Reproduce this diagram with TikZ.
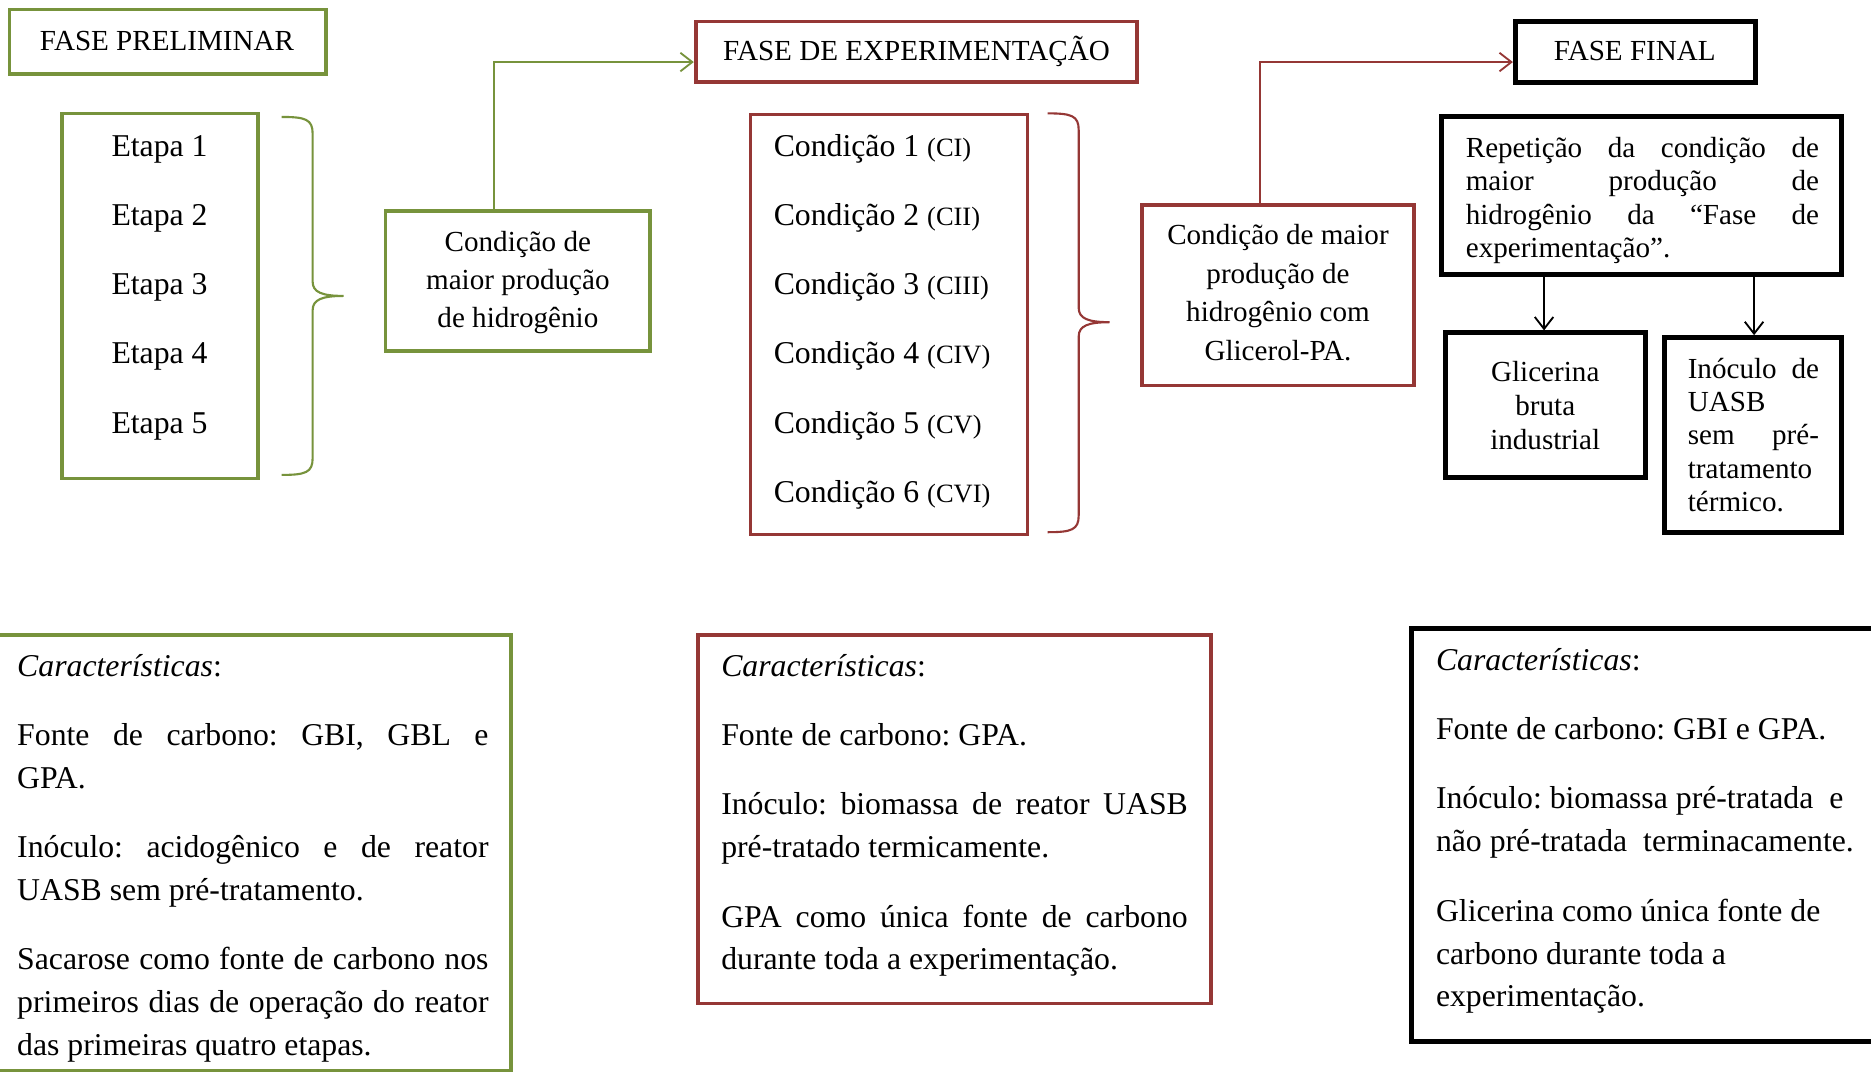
\documentclass[tikz,border=0pt]{standalone}
\usepackage{fontspec}
\setmainfont{Liberation Serif}
\usetikzlibrary{arrows.meta,fit}
\frenchspacing
\newlength\pxu
\setlength\pxu{0.451pt}
\definecolor{ogreen}{HTML}{77933C}
\definecolor{dred}{HTML}{953735}
\newcommand\setbs[2]{\fontsize{#1}{#2}\selectfont}
\newcommand\jline[1]{\makebox[\linewidth][s]{#1}}
\tikzset{
  gbox/.style={draw=ogreen, line width=1.4pt, inner sep=0pt},
  rbox/.style={draw=dred, line width=1.4pt, inner sep=0pt},
  kbox/.style={draw=black, line width=1.9pt, inner sep=0pt},
  ttl/.style={anchor=base, inner sep=0pt, font=\setbs{11}{13}},
  lft/.style={anchor=base west, inner sep=0pt},
  ctr/.style={anchor=base, inner sep=0pt},
  garrow/.style={draw=ogreen, line width=0.7pt, -{Straight Barb[length=4.5pt,width=7pt]}},
  rarrow/.style={draw=dred, line width=0.7pt, -{Straight Barb[length=4.5pt,width=7pt]}},
  karrow/.style={draw=black, line width=0.7pt, -{Straight Barb[length=4.5pt,width=7pt]}},
  gbrace/.style={draw=ogreen, line width=0.8pt},
  rbrace/.style={draw=dred, line width=0.8pt}
}
\begin{document}
\frenchspacing
\begin{tikzpicture}[x=0.451pt,y=-0.451pt]
\useasboundingbox (0,0) rectangle (1568,899);
\clip (0,0) rectangle (1568,899);
\fill[white] (0,0) rectangle (1568,899);

% ---------- FASE PRELIMINAR ----------
\node[gbox, fit={(8,8) (273,62)}] (fprel) {};
\node[ttl] (tfprel) at (140,42) {FASE PRELIMINAR};

\node[gbox, fit={(52,95) (216,401)}] (etapas) {};
\node[lft] (tetapas) at (93,131) {\parbox[t]{110\pxu}{\setbs{12}{26.16}Etapa 1\\Etapa 2\\Etapa 3\\Etapa 4\\Etapa 5}};

\path[gbrace] (236,98) .. controls (256,98) and (262,100) .. (262,112) -- (262,236)
  .. controls (262,245) and (270,248) .. (288,248)
  .. controls (270,248) and (262,251) .. (262,260) -- (262,384)
  .. controls (262,396) and (256,398) .. (236,398);

\node[gbox, fit={(323,177) (545,294)}] (gcond) {};
\node[ctr] (tgcond) at (434,211) {\parbox[t]{210\pxu}{\centering\setbs{11}{14.4}Condição de\\maior produção\\de hidrogênio}};

% ---------- FASE DE EXPERIMENTACAO ----------
\node[rbox, fit={(583,18) (953,69)}] (fexp) {};
\node[ttl] (tfexp) at (768,51) {FASE DE EXPERIMENTAÇÃO};

\coordinate (gbend) at (414,52);
\draw[garrow] (gbend |- gcond.north) -- (gbend) -- (gbend -| fexp.west);

\node[rbox, fit={(629,96) (861,448)}] (conds) {};
\node[lft] (tconds) at (648,131) {\parbox[t]{215\pxu}{\setbs{12}{26.16}Condição 1 {\fontsize{10}{12}\selectfont(CI)}\\Condição 2 {\fontsize{10}{12}\selectfont(CII)}\\Condição 3 {\fontsize{10}{12}\selectfont(CIII)}\\Condição 4 {\fontsize{10}{12}\selectfont(CIV)}\\Condição 5 {\fontsize{10}{12}\selectfont(CV)}\\Condição 6 {\fontsize{10}{12}\selectfont(CVI)}}};

\path[rbrace] (878,95) .. controls (898,95) and (904,97) .. (904,109) -- (904,258)
  .. controls (904,267) and (912,270) .. (930,270)
  .. controls (912,270) and (904,273) .. (904,282) -- (904,432)
  .. controls (904,444) and (898,446) .. (878,446);

\node[rbox, fit={(957,172) (1185,323)}] (rcond) {};
\node[ctr] (trcond) at (1071,205) {\parbox[t]{220\pxu}{\centering\setbs{11}{14.6}Condição de maior\\produção de\\hidrogênio com\\Glicerol-PA.}};

% ---------- FASE FINAL ----------
\node[kbox, fit={(1270,18) (1471,69)}] (ffin) {};
\node[ttl] (tffin) at (1370,51) {FASE FINAL};

\coordinate (rbend) at (1056,52);
\draw[rarrow] (rbend |- rcond.north) -- (rbend) -- (rbend -| ffin.west);

\node[kbox, fit={(1208,98) (1543,230)}] (rep) {};
\node[lft] (trep) at (1228,132) {\parbox[t]{296\pxu}{\setbs{11}{12.6}\jline{Repetição da condição de}\\\jline{maior produção de}\\\jline{hidrogênio da “Fase de}\\experimentação”.}};

\node[kbox, fit={(1211,279) (1379,400)}] (glic) {};
\node[ctr] (tglic) at (1295,320) {\parbox[t]{150\pxu}{\centering\setbs{11}{12.8}Glicerina\\bruta\\industrial}};

\node[kbox, fit={(1395,283) (1543,446)}] (inoc) {};
\node[lft] (tinoc) at (1414,317) {\parbox[t]{110\pxu}{\setbs{11}{12.6}\jline{Inóculo de}\\UASB\\\jline{sem pré-}\\tratamento\\térmico.}};

\coordinate (ka) at (1294,0);
\coordinate (kb) at (1470,0);
\draw[karrow] (ka |- rep.south) -- (ka |- glic.north);
\draw[karrow] (kb |- rep.south) -- (kb |- inoc.north);

% ---------- Caracteristicas ----------
\node[gbox, fit={(-20,532) (428,897)}] (cprel) {};
\node[lft] (tcprel) at (14,567) {\parbox[t]{395\pxu}{\setbs{12}{16.24}\textit{Características}:\\[9.9pt]
\jline{Fonte de carbono: GBI, GBL e}\\
GPA.\\[9.9pt]
\jline{Inóculo: acidogênico e de reator}\\
UASB sem pré-tratamento.\\[9.9pt]
\jline{Sacarose como fonte de carbono nos}\\
\jline{primeiros dias de operação do reator}\\
das primeiras quatro etapas.}};

\node[rbox, fit={(585,532) (1015,841)}] (cexp) {};
\node[lft] (tcexp) at (604,567) {\parbox[t]{391\pxu}{\setbs{12}{16.24}\textit{Características}:\\[9.9pt]
Fonte de carbono: GPA.\\[9.9pt]
\jline{Inóculo: biomassa de reator UASB}\\
pré-tratado termicamente.\\[9.9pt]
\jline{GPA como única fonte de carbono}\\
durante toda a experimentação.}};

\node[kbox, fit={(1183,527) (1600,873)}] (cfin) {};
\node[lft] (tcfin) at (1203,562) {\parbox[t]{370\pxu}{\setbs{12}{16.24}\textit{Características}:\\[9.9pt]
Fonte de carbono: GBI e GPA.\\[9.9pt]
Inóculo: biomassa pré-tratada\ \ e\\
não pré-tratada\ \ terminacamente.\\[9.9pt]
Glicerina como única fonte de\\
carbono durante toda a\\
experimentação.}};
\end{tikzpicture}
\end{document}
